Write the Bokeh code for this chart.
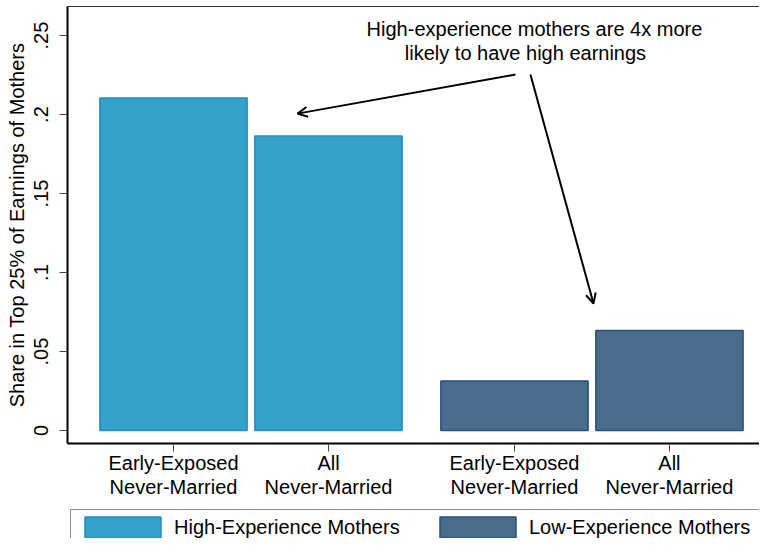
from bokeh.plotting import figure
from bokeh.layouts import column
from bokeh.models import (Range1d, FixedTicker, Legend, LegendItem, Arrow, OpenHead,
                          ColumnDataSource, LinearAxis)
from bokeh.core.properties import value
from bokeh.embed import file_html
from bokeh.resources import INLINE

# ---- data ----
bar_labels = ["Early-Exposed\nNever-Married", "All\nNever-Married"]
high_values = [0.2105, 0.1865]
low_values = [0.0313, 0.0633]
series_names = ["High-Experience Mothers", "Low-Experience Mothers"]
y_ticks = [0, 0.05, 0.1, 0.15, 0.2, 0.25]
y_tick_labels = ["0", ".05", ".1", ".15", ".2", ".25"]
annotation_lines = ["High-experience mothers are 4x more", "likely to have high earnings"]

FONT = "Liberation Sans"
high_fill, high_line = "#34A1C9", "#1E8EC1"
low_fill, low_line = "#4A6C8C", "#25507A"

# slot positions: 10 units between bars inside a group, 12 between groups
high_x = [10 + 10 * i for i in range(len(high_values))]
low_x = [32 + 10 * i for i in range(len(low_values))]

W = 759
MAIN_H = 505
LEG_H = 33

p = figure(width=W, height=MAIN_H, output_backend="svg", toolbar_location=None,
           x_range=Range1d(3.16, 47.81), y_range=Range1d(-0.0082, 0.2684),
           min_border_left=67, min_border_right=0, min_border_top=6,
           min_border_bottom=MAIN_H - 443)
p.xgrid.visible = False
p.ygrid.visible = False
p.outline_line_color = None
p.background_fill_color = "white"
p.border_fill_color = "white"

# top border line of the plot region (no ticks, no labels)
top_axis = LinearAxis(ticker=FixedTicker(ticks=[]), axis_line_color="#333333",
                      axis_line_width=1, major_tick_out=0, major_tick_in=0,
                      minor_tick_out=0, minor_tick_in=0, major_label_standoff=0)
p.add_layout(top_axis, "above")

src_h = ColumnDataSource(dict(x=high_x, top=high_values))
src_l = ColumnDataSource(dict(x=low_x, top=low_values))
p.vbar(x="x", top="top", bottom=0, width=9.5, source=src_h,
       fill_color=high_fill, line_color=high_line, line_width=1.5)
p.vbar(x="x", top="top", bottom=0, width=9.5, source=src_l,
       fill_color=low_fill, line_color=low_line, line_width=1.5)

# x axis
all_x = high_x + low_x
xax = p.below[0]
xax.ticker = FixedTicker(ticks=all_x)
xax.major_label_overrides = {x: lab for x, lab in zip(all_x, bar_labels * 2)}
xax.major_label_text_font = FONT
xax.major_label_text_font_size = "20px"
xax.major_label_text_color = "black"
xax.major_label_text_line_height = 1.1
xax.major_label_standoff = 0
xax.major_tick_out = 8
xax.major_tick_in = 0
xax.minor_tick_out = 0
xax.minor_tick_in = 0
xax.axis_line_color = "black"
xax.axis_line_width = 2
xax.major_tick_line_color = "#444444"

# y axis
yax = p.left[0]
yax.ticker = FixedTicker(ticks=y_ticks)
yax.major_label_overrides = {t: lab for t, lab in zip(y_ticks, y_tick_labels)}
yax.major_label_orientation = "vertical"
yax.major_label_text_font = FONT
yax.major_label_text_font_size = "20px"
yax.major_label_text_color = "black"
yax.major_label_standoff = 11
yax.major_tick_out = 8
yax.major_tick_in = 0
yax.minor_tick_out = 0
yax.minor_tick_in = 0
yax.axis_line_color = "black"
yax.axis_line_width = 2
yax.major_tick_line_color = "#444444"
yax.axis_label = "Share in Top 25% of Earnings of Mothers"
yax.axis_label_text_font = FONT
yax.axis_label_text_font_size = "20px"
yax.axis_label_text_font_style = "normal"
yax.axis_label_text_color = "black"
yax.axis_label_standoff = 4

# annotation text
p.text(x=[33.29, 32.71], y=[0.2544, 0.2392], text=annotation_lines,
       text_font=value(FONT), text_font_size="20px", text_color="black",
       text_align="center", text_baseline="middle")

# arrows
for xs, ys, xe, ye in [(32.06, 0.2253, 18.0, 0.2006), (33.03, 0.2253, 37.1, 0.0804)]:
    p.add_layout(Arrow(end=OpenHead(size=10, line_width=2, line_color="black"),
                       x_start=xs, y_start=ys, x_end=xe, y_end=ye,
                       line_width=2, line_color="black"))

# ---- legend strip (separate figure below the chart) ----
# The strip re-uses the bar sources but its y-range lies above all bars,
# so only the legend shows there.
lf = figure(width=W, height=LEG_H, output_backend="svg", toolbar_location=None,
            x_range=Range1d(3.16, 47.81), y_range=Range1d(10, 11),
            x_axis_type=None, y_axis_type=None, min_border=0)
lf.xgrid.visible = False
lf.ygrid.visible = False
lf.outline_line_color = None
lf.background_fill_color = "white"
lf.border_fill_color = "white"
lh = lf.vbar(x="x", top="top", bottom=0, width=9.5, source=src_h,
             fill_color=high_fill, line_color=high_line, line_width=1.5)
ll = lf.vbar(x="x", top="top", bottom=0, width=9.5, source=src_l,
             fill_color=low_fill, line_color=low_line, line_width=1.5)

legend = Legend(items=[LegendItem(label=series_names[0], renderers=[lh]),
                       LegendItem(label=series_names[1], renderers=[ll])],
                orientation="horizontal", location=(3, -7))
legend.glyph_width = 95
legend.glyph_height = 26
legend.label_standoff = 4
legend.label_width = 236
legend.spacing = 20
legend.padding = 4
legend.margin = 0
legend.border_line_color = "#222222"
legend.border_line_width = 1
legend.label_text_font = FONT
legend.label_text_font_size = "20px"
legend.label_text_color = "black"
legend.label_height = 21
lf.add_layout(legend)

layout = column(p, lf, spacing=0)
open("out.html", "w").write(file_html(layout, INLINE))
